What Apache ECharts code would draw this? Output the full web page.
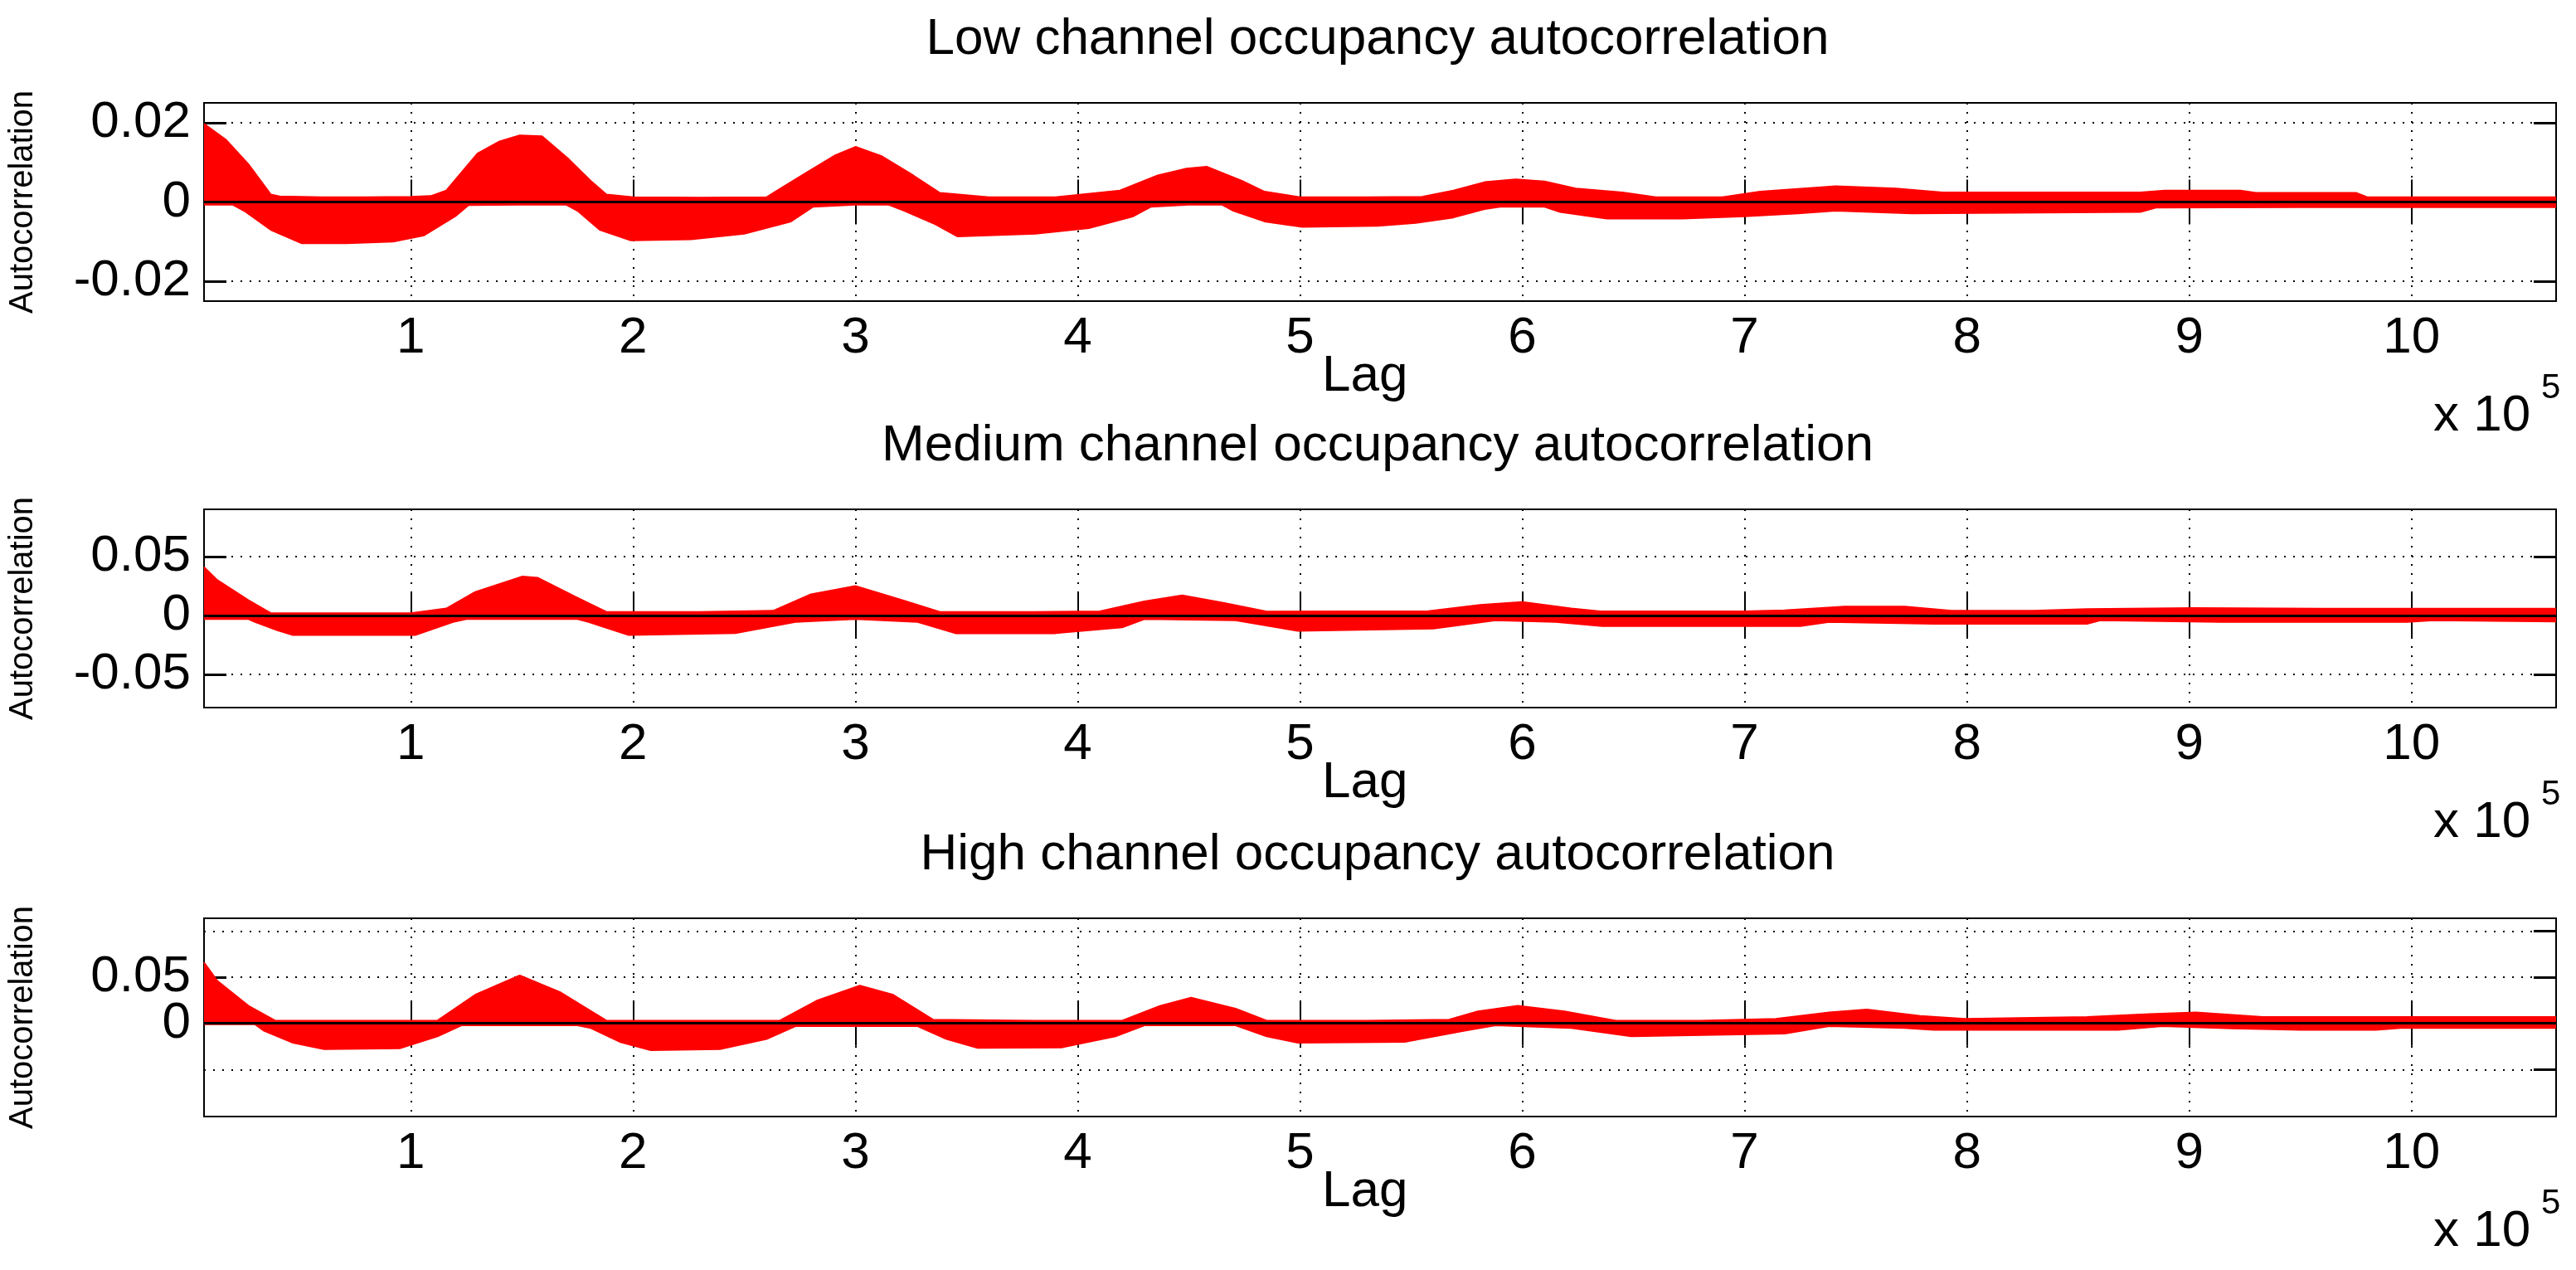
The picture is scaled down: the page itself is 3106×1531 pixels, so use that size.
<!DOCTYPE html>
<html>
<head>
<meta charset="utf-8">
<script src="https://cdn.jsdelivr.net/npm/echarts@6/dist/echarts.min.js"></script>
<style>
html, body { margin: 0; padding: 0; background: #fff; }
#chart { width: 3106px; height: 1531px; }
</style>
</head>
<body>
<div id="chart"></div>
<script>
// lag in units of 1e5; panel 1 values in 1e-3, panels 2 and 3 in 1e-2
var titles = ['Low channel occupancy autocorrelation', 'Medium channel occupancy autocorrelation', 'High channel occupancy autocorrelation'];
var xTicks = [1, 2, 3, 4, 5, 6, 7, 8, 9, 10];
var yTicks = [[-0.02, 0, 0.02], [-0.05, 0, 0.05], [-0.05, 0, 0.05, 0.1]];
var yRanges = [[-0.025, 0.025], [-0.078, 0.09], [-0.101, 0.114]];
var units = [0.001, 0.01, 0.01];
var bounds = [0.0016, 0.0025, 0.0008];

var lagUp1 = [0.07,0.17,0.27,0.37,0.41,0.6,0.8,1.0,1.09,1.16,1.3,1.4,1.49,1.59,1.71,1.81,1.88,2.0,2.3,2.6,2.64,2.78,2.91,3.0,3.12,3.26,3.38,3.6,3.9,4.19,4.36,4.49,4.58,4.74,4.84,5.0,5.3,5.55,5.69,5.83,5.97,6.1,6.24,6.45,6.6,6.9,7.07,7.41,7.68,7.89,8.3,8.78,8.89,9.23,9.3,9.75,9.8,10.2,10.65];
var up1 = [19.7,15.6,9.5,1.9,1.4,1.2,1.2,1.3,1.5,2.9,12.2,15.3,16.8,16.6,10.8,5.3,1.9,1.2,1.1,1.2,2.6,7.4,11.8,13.9,11.5,6.7,2.3,1.2,1.2,2.9,6.7,8.4,8.9,5.3,2.6,1.2,1.2,1.3,2.9,5.0,5.7,5.2,3.4,2.4,1.2,1.2,2.6,4.0,3.4,2.4,2.4,2.4,2.9,2.9,2.3,2.3,1.2,1.2,1.2];
var lagLow1 = [0.07,0.2,0.25,0.37,0.51,0.71,0.92,1.06,1.2,1.26,1.5,1.7,1.75,1.85,1.99,2.26,2.5,2.71,2.81,3.0,3.15,3.22,3.36,3.46,3.81,4.05,4.25,4.33,4.5,4.65,4.7,4.84,5.01,5.35,5.52,5.69,5.83,5.9,6.1,6.17,6.38,6.72,7.0,7.24,7.41,7.75,8.78,8.85,9.5,10.65];
var low1 = [-0.7,-0.7,-2.2,-7,-10.4,-10.4,-10,-8.4,-3.6,-0.8,-0.7,-0.7,-2.2,-7,-9.7,-9.4,-8,-4.9,-1.2,-0.7,-0.7,-2.2,-5.6,-8.7,-8,-6.6,-3.6,-1.2,-0.7,-0.7,-2.2,-4.9,-6.3,-6,-5.3,-3.9,-1.8,-1.2,-1.2,-2.5,-4.2,-4.2,-3.6,-2.9,-2.2,-2.9,-2.5,-1.4,-1.3,-1.3];

var lagUp2 = [0.07,0.13,0.27,0.37,0.6,1.0,1.16,1.29,1.5,1.57,1.74,1.88,2.3,2.63,2.8,3.0,3.21,3.38,3.8,4.1,4.3,4.47,4.65,4.85,5.2,5.57,5.81,6.0,6.22,6.35,7.0,7.18,7.45,7.72,7.93,8.3,8.54,9.02,9.6,10.65];
var up2 = [4.1,3.0,1.3,0.2,0.2,0.2,0.6,2.0,3.3,3.2,1.6,0.3,0.3,0.4,1.8,2.5,1.3,0.3,0.3,0.35,1.2,1.7,1.1,0.33,0.35,0.35,0.9,1.15,0.6,0.35,0.35,0.45,0.75,0.75,0.4,0.4,0.55,0.63,0.58,0.58];
var lagLow2 = [0.07,0.27,0.3,0.4,0.47,1.02,1.19,1.25,1.75,1.8,1.98,2.46,2.73,3.0,3.28,3.45,3.9,4.2,4.3,4.71,4.99,5.6,5.88,6.15,6.36,7.25,7.38,7.85,8.54,8.6,9.14,9.98,10.1,10.65];
var low2 = [-0.3,-0.3,-0.55,-1.25,-1.65,-1.65,-0.55,-0.3,-0.3,-0.55,-1.65,-1.5,-0.55,-0.3,-0.55,-1.5,-1.5,-1.0,-0.3,-0.4,-1.3,-1.1,-0.4,-0.55,-0.9,-0.9,-0.55,-0.7,-0.7,-0.4,-0.55,-0.55,-0.4,-0.5];

var lagUp3 = [0.07,0.13,0.27,0.39,0.8,1.12,1.29,1.49,1.67,1.88,2.3,2.66,2.83,3.02,3.17,3.35,3.8,4.2,4.37,4.51,4.71,4.85,5.3,5.67,5.8,5.98,6.19,6.42,6.8,7.14,7.38,7.55,7.79,7.99,8.54,8.82,9.03,9.33,10.65];
var up3 = [6.6,4.6,1.9,0.3,0.3,0.3,3.1,5.2,3.4,0.3,0.3,0.3,2.5,4.1,3.1,0.4,0.3,0.3,1.9,2.8,1.6,0.3,0.3,0.4,1.3,1.9,1.3,0.3,0.3,0.5,1.2,1.5,0.8,0.5,0.7,1.0,1.2,0.7,0.7];
var lagLow3 = [0.07,0.3,0.34,0.47,0.61,0.95,1.12,1.23,1.75,1.81,1.94,2.08,2.39,2.6,2.73,3.28,3.41,3.55,3.93,4.17,4.3,4.71,4.85,4.99,5.47,5.74,5.88,6.22,6.49,7.18,7.38,7.72,7.85,8.68,8.88,9.19,9.5,9.84,9.95,10.65];
var low3 = [-0.1,-0.1,-0.8,-2.1,-2.8,-2.7,-1.4,-0.2,-0.2,-0.5,-2.0,-2.9,-2.8,-1.7,-0.3,-0.3,-1.7,-2.65,-2.6,-1.4,-0.2,-0.2,-1.4,-2.1,-2.0,-0.8,-0.2,-0.5,-1.4,-1.1,-0.3,-0.5,-0.7,-0.7,-0.3,-0.55,-0.7,-0.7,-0.5,-0.5];

var envelopes = [
    [[lagUp1, up1], [lagLow1, low1]],
    [[lagUp2, up2], [lagLow2, low2]],
    [[lagUp3, up3], [lagLow3, low3]]
];

var myChart = echarts.init(document.getElementById('chart'));
var FONT = 'Liberation Sans';
var gridTops = [124, 614, 1107];
var gridH = 239;

var grid = [], xAxis = [], yAxis = [], series = [], title = [], graphic = [];

gridTops.forEach(function (top, i) {
    grid.push({ left: 231, right: 24, top: top, height: gridH, show: true, borderColor: '#000', borderWidth: 2, backgroundColor: '#fff' });

    title.push({
        text: titles[i], left: 1656, top: top - 112, textAlign: 'center',
        textStyle: { fontFamily: FONT, fontSize: 62, fontWeight: 'normal', color: '#000' }
    });

    // bottom and top x axes (MATLAB box with ticks on both sides)
    [0, 1].forEach(function (k) {
        xAxis.push({
            type: 'value', gridIndex: i, min: 0.07, max: 10.65, position: k ? 'top' : 'bottom',
            axisLine: { show: false },
            axisTick: { show: true, inside: true, length: 27, customValues: xTicks, lineStyle: { color: '#000', width: 2 } },
            axisLabel: { show: !k, customValues: xTicks, margin: 14, fontFamily: FONT, fontSize: 62, color: '#000' },
            splitLine: { show: !k, lineStyle: { color: '#000', width: 2, type: [2, 9] } }
        });
        yAxis.push({
            type: 'value', gridIndex: i, min: yRanges[i][0], max: yRanges[i][1], position: k ? 'right' : 'left',
            name: k ? '' : 'Autocorrelation', nameLocation: 'middle', nameRotate: 90, nameGap: 198,
            nameTextStyle: { fontFamily: FONT, fontSize: 40, color: '#000' },
            axisLine: { show: false },
            axisTick: { show: true, inside: true, length: 27, customValues: yTicks[i], lineStyle: { color: '#000', width: 3 } },
            axisLabel: { show: !k, customValues: yTicks[i], margin: 16, fontFamily: FONT, fontSize: 62, color: '#000',
                formatter: function (v) { return String(v); } },
            splitLine: { show: !k, lineStyle: { color: '#000', width: 2, type: [2, 9] } }
        });
    });

    envelopes[i].forEach(function (env) {
        var lags = env[0], vals = env[1];
        series.push({
            type: 'line', xAxisIndex: 2 * i, yAxisIndex: 2 * i, silent: true, showSymbol: false,
            data: lags.map(function (x, j) { return [x, vals[j] * units[i]]; }),
            lineStyle: { color: '#ff0000', width: 2 },
            areaStyle: { color: '#ff0000', opacity: 1, origin: 0 },
            z: 2
        });
    });

    // confidence bounds and zero line
    series.push({
        type: 'line', xAxisIndex: 2 * i, yAxisIndex: 2 * i, data: [], silent: true, z: 5,
        markLine: {
            silent: true, symbol: 'none', label: { show: false }, animation: false,
            data: [
                { yAxis: bounds[i], lineStyle: { color: '#0000ff', width: 3, type: 'solid' } },
                { yAxis: -bounds[i], lineStyle: { color: '#0000ff', width: 3, type: 'solid' } },
                { yAxis: 0, lineStyle: { color: '#000', width: 3, type: 'solid' } }
            ]
        }
    });

    var bottom = top + gridH;
    graphic.push({ type: 'text', left: 1644 - 50, top: bottom + 60,
        style: { text: 'Lag', font: '62px "' + FONT + '"', fill: '#000' } });
    graphic.push({ type: 'text', left: 2934, top: bottom + 108,
        style: { text: 'x 10', font: '62px "' + FONT + '"', fill: '#000' } });
    graphic.push({ type: 'text', left: 3064, top: bottom + 84,
        style: { text: '5', font: '42px "' + FONT + '"', fill: '#000' } });
});

var option = {
    animation: false,
    backgroundColor: '#fff',
    title: title,
    grid: grid,
    xAxis: xAxis,
    yAxis: yAxis,
    series: series,
    graphic: graphic
};

myChart.setOption(option);
</script>
</body>
</html>
